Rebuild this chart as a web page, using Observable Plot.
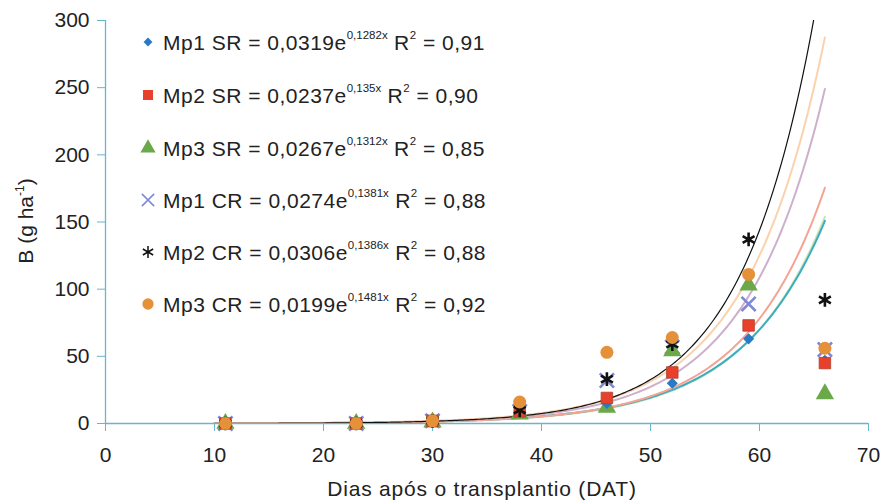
<!DOCTYPE html>
<html><head><meta charset="utf-8">
<script src="https://cdn.jsdelivr.net/npm/d3@7"></script>
<script src="https://cdn.jsdelivr.net/npm/@observablehq/plot@0.6"></script>
<style>
body{margin:0;background:#fff;}
#chart svg{font-family:"Liberation Sans",Arial,sans-serif;}
</style></head>
<body><div id="chart"></div>
<script>
const days = [11, 23, 30, 38, 46, 52, 59, 66];
const seriesNames = ["Mp1 SR", "Mp2 SR", "Mp3 SR", "Mp1 CR", "Mp2 CR", "Mp3 CR"];
const mp1SR = [0, 0, 2, 8, 15, 30, 63, 47];
const mp2SR = [0, 0, 2, 9, 19, 38, 73, 45];
const mp3SR = [0, 0, 1, 7, 12, 54, 103, 22];
const mp1CR = [0, 0, 2, 9, 32, 57, 89, 55];
const mp2CR = [0, 0, 2, 10, 33, 59, 137, 92];
const mp3CR = [0, 0, 2, 16, 53, 64, 111, 56];
const coefA = ["0,0319", "0,0237", "0,0267", "0,0274", "0,0306", "0,0199"];
const coefB = ["0,1282", "0,135", "0,1312", "0,1381", "0,1386", "0,1481"];
const r2 = ["0,91", "0,90", "0,85", "0,88", "0,88", "0,92"];
const xTicks = [0, 10, 20, 30, 40, 50, 60, 70];
const yTicks = [0, 50, 100, 150, 200, 250, 300];

const values = [mp1SR, mp2SR, mp3SR, mp1CR, mp2CR, mp3CR];
const markColors = ["#2a79c6", "#e8402a", "#6aa84a", "#7f88d8", "#111111", "#e4913a"];
const symbols = ["diamond2", "square", "triangle", "times", "asterisk", "circle"];
const lineColors = ["#3aaec0", "#f4a494", "#cfe3b0", "#cdb0cc", "#fbd2ae", "#111111"];
const num = s => +s.replace(",", ".");

// trendlines from the published equations
const curves = seriesNames.map((name, i) => {
  const a = num(coefA[i]), b = num(coefB[i]);
  return d3.range(10, 66.01, 0.25).map(x => ({name, x, y: a * Math.exp(b * x)}));
});
const pts = seriesNames.map((name, i) => days.map((d, j) => ({name, x: d, y: values[i][j]})));

const axisColor = "#6ab4cc";
const drawOrder = [3, 2, 0, 1, 4, 5];
const dotR = [5, 6.5, 6.8, 6.5, 6.5, 6.5];
const marks = [
  Plot.ruleY([0], {stroke: axisColor, strokeWidth: 1.3}),
  Plot.ruleX([0], {stroke: axisColor, strokeWidth: 1.3}),
];
[2, 0, 1, 3, 4, 5].forEach(i => {
  marks.push(Plot.line(curves[i], {x: "x", y: "y", stroke: lineColors[i], strokeWidth: i === 5 ? 1.2 : 2, clip: true, curve: "linear"}));
});
drawOrder.forEach(i => {
  const stroked = symbols[i] === "times" || symbols[i] === "asterisk";
  marks.push(Plot.dot(pts[i], {
    x: "x", y: "y", symbol: () => symbols[i], r: dotR[i],
    fill: stroked ? "none" : markColors[i],
    stroke: stroked ? markColors[i] : (i === 1 ? "#b04030" : "none"),
    strokeWidth: stroked ? 2.6 : 0.8
  }));
});

const plot = Plot.plot({
  width: 885, height: 502,
  marginLeft: 105, marginRight: 17, marginTop: 20, marginBottom: 79,
  style: {fontFamily: "Liberation Sans, Arial, sans-serif", background: "#fff"},
  x: {domain: [0, 70], ticks: xTicks, label: null},
  y: {domain: [0, 300], ticks: yTicks, label: null},
  symbol: {type: "identity"},
  marks: [
    Plot.axisX({ticks: xTicks, tickSize: 8, tickPadding: 16, stroke: axisColor, fill: "#222", fontSize: 21, label: null}),
    Plot.axisY({ticks: yTicks, tickSize: 8, tickPadding: 8, stroke: axisColor, fill: "#222", fontSize: 21, label: null}),
    ...marks
  ]
});
document.getElementById("chart").appendChild(plot);

const svg = d3.select(plot);
// axis titles
svg.append("text").attr("x", 482).attr("y", 496).attr("text-anchor", "middle")
  .attr("font-size", 21).attr("letter-spacing", 0.8).attr("fill", "#222").text("Dias após o transplantio (DAT)");
const yl = svg.append("text").attr("transform", "translate(33,221) rotate(-90)").attr("text-anchor", "middle")
  .attr("font-size", 21).attr("fill", "#222");
yl.append("tspan").text("B (g ha");
yl.append("tspan").attr("font-size", 12).attr("dy", -9).text("-1");
yl.append("tspan").attr("dy", 9).text(")");

// legend
const rowY = [42, 95, 148, 200, 252, 304];
seriesNames.forEach((name, i) => {
  const y = rowY[i];
  const stroked = symbols[i] === "times" || symbols[i] === "asterisk";
  const symType = {diamond2: d3.symbolDiamond2, square: d3.symbolSquare, triangle: d3.symbolTriangle,
    times: d3.symbolTimes, asterisk: d3.symbolAsterisk, circle: d3.symbolCircle}[symbols[i]];
  svg.append("path").attr("transform", `translate(148,${y})`)
    .attr("d", d3.symbol(symType, symbols[i] === "diamond2" ? 50 : 100)())
    .attr("fill", stroked ? "none" : markColors[i])
    .attr("stroke", stroked ? markColors[i] : "none").attr("stroke-width", stroked ? 1.5 : 0);
  const t = svg.append("text").attr("x", 163).attr("y", y + 8).attr("text-anchor", "start")
    .attr("font-size", 21).attr("letter-spacing", 0.5).attr("fill", "#222");
  t.append("tspan").text(`${name} = ${coefA[i]}e`);
  t.append("tspan").attr("font-size", 11.5).attr("letter-spacing", 0).attr("dy", -11).text(`${coefB[i]}x`);
  t.append("tspan").attr("dy", 11).text(" R");
  t.append("tspan").attr("font-size", 11.5).attr("dy", -11).text("2");
  t.append("tspan").attr("dy", 11).text(` = ${r2[i]}`);
});
</script></body></html>
